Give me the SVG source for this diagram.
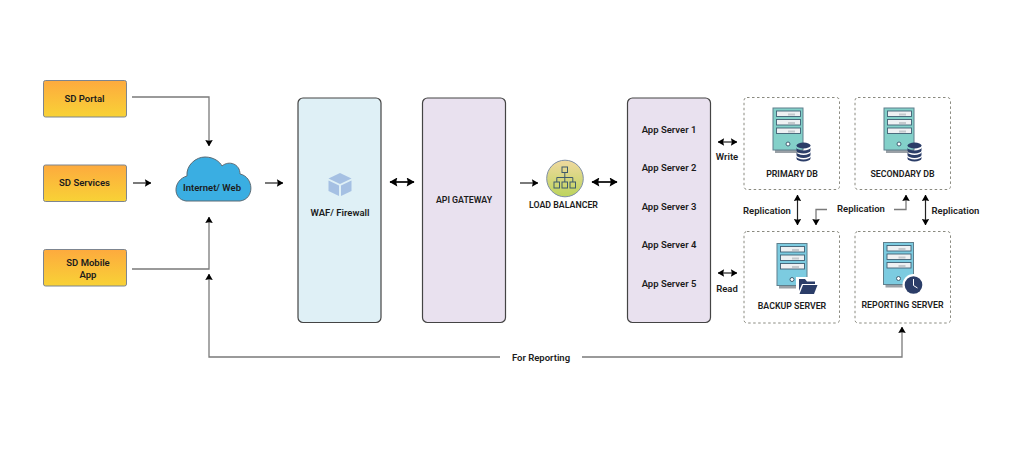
<svg xmlns="http://www.w3.org/2000/svg" width="1024" height="450" viewBox="0 0 1024 450">
<style>
text{font-family:Roboto,"Noto Sans","Liberation Sans",sans-serif;font-weight:600;font-size:9.500px;fill:#1c1c1c;text-anchor:middle}
text.c{font-size:8.800px}
.src{fill:url(#orange);stroke:#7d8590;stroke-width:1}
.panel{stroke:#444;stroke-width:1.2}
.dash{fill:#fff;stroke:#8a8a80;stroke-width:1;stroke-dasharray:2.5 2.5}
.g{fill:none;stroke:#7a7a7a;stroke-width:1.3}
.d{fill:none;stroke:#222;stroke-width:1.2}
.t{fill:none;stroke:#111;stroke-width:1.8}
.drawer{fill:#eef1f3;stroke:#3f5f73;stroke-width:.9}
.tag{fill:#c4c9cd}
.navy{fill:#2b3d68}
</style>
<defs>
<linearGradient id="orange" x1="0" y1="0" x2="0" y2="1"><stop offset="0" stop-color="#fdaa3e"/><stop offset="1" stop-color="#f8d236"/></linearGradient>
<linearGradient id="lb" x1="0" y1="0" x2="0" y2="1"><stop offset="0" stop-color="#f0d9a0"/><stop offset="1" stop-color="#bcd45c"/></linearGradient>
<marker id="a" viewBox="0 0 8 8" refX="7.500" refY="4" markerWidth="7.500" markerHeight="7.500" markerUnits="userSpaceOnUse" orient="auto-start-reverse"><path d="M1 0 L8 4 L1 8 L2 4Z" fill="#000"/></marker>
<marker id="b" viewBox="0 0 8 8" refX="7.500" refY="4" markerWidth="9" markerHeight="9" markerUnits="userSpaceOnUse" orient="auto-start-reverse"><path d="M1 0 L8 4 L1 8 L2 4Z" fill="#000"/></marker>
<g id="srv">
<rect x="2" y="40" width="28" height="5" fill="#9aa0a6"/>
<rect x="0" y="0" width="30" height="42" stroke="#5f7f8c" stroke-width="1"/>
<rect class="drawer" x="3.500" y="3" width="24" height="5.500"/>
<rect class="drawer" x="3.500" y="11.500" width="24" height="5.500"/>
<rect class="drawer" x="3.500" y="20" width="24" height="5.500"/>
<rect class="tag" x="15" y="5.500" width="7" height="2"/>
<rect class="tag" x="15" y="14" width="7" height="2"/>
<rect class="tag" x="15" y="22.500" width="7" height="2"/>
<circle cx="15" cy="36" r="2" fill="#fff" stroke="#3f5f73"/>
</g>
<g id="db">
<ellipse cx="0" cy="-5.500" rx="7" ry="3" class="navy"/>
<path class="navy" d="M-7-3.500a7 3 0 0 0 14 0v3a7 3 0 0 1-14 0Z"/>
<path class="navy" d="M-7 1a7 3 0 0 0 14 0v3a7 3 0 0 1-14 0Z"/>
<path class="navy" d="M-7 5.500a7 3 0 0 0 14 0v2a7 3 0 0 1-14 0Z"/>
</g>
</defs>
<rect width="1024" height="450" fill="#fff"/>

<g id="connectors">
<path class="g" d="M132 97H209V146" marker-end="url(#a)"/>
<path class="d" d="M133 183H151" marker-end="url(#a)"/>
<path class="g" d="M132 269H209V217" marker-end="url(#a)"/>
<path class="d" d="M265 183H283" marker-end="url(#a)"/>
<path class="g" d="M500 357H209V274" marker-end="url(#a)"/>
<path class="g" d="M582 357H902V327" marker-end="url(#a)"/>
<path class="t" d="M390 182H414" marker-start="url(#b)" marker-end="url(#b)"/>
<path class="d" d="M520 183H538" marker-end="url(#a)"/>
<path class="t" d="M592 182H617" marker-start="url(#b)" marker-end="url(#b)"/>
<path class="d" d="M718 142H737" marker-start="url(#a)" marker-end="url(#a)"/>
<path class="d" d="M718 273H737" marker-start="url(#a)" marker-end="url(#a)"/>
<path class="d" d="M797.500 195V225" marker-start="url(#a)" marker-end="url(#a)"/>
<path class="g" d="M827 209.500H816V225" marker-end="url(#a)"/>
<path class="g" d="M894 209.500H906V195" marker-end="url(#a)"/>
<path class="d" d="M925.500 195V225" marker-start="url(#a)" marker-end="url(#a)"/>
</g>

<g id="sd-portal"><rect class="src" x="43.500" y="80.500" width="83" height="36.500" rx="2"/><text x="84.500" y="102">SD Portal</text></g>
<g id="sd-services"><rect class="src" x="43.500" y="165" width="83" height="36.500" rx="2"/><text x="84.500" y="186">SD Services</text></g>
<g id="sd-mobile"><rect class="src" x="43.500" y="249.500" width="83" height="36.500" rx="2"/><text x="88" y="266">SD Mobile</text><text x="88" y="278">App</text></g>

<g id="cloud">
<path d="M186 201C172 199 173 180 187 176C186 165 196 157 205 157C214 157 220 162 222 166C229 160 240 164 240 174C254 177 255 199 240 201Z" fill="#3aaee2" stroke="#5b6b75" stroke-width="1"/>
<text x="212" y="191">Internet/ Web</text>
</g>

<g id="waf">
<rect class="panel" x="298" y="98" width="83" height="224.500" rx="5" fill="#dff0f6"/>
<path d="M340 173L351.500 178.500L340 184L328.500 178.500Z" fill="#a5c0e3"/>
<path d="M328.500 180.500L339 185.500V196L328.500 191Z" fill="#a5c0e3"/>
<path d="M351.500 180.500L341 185.500V196L351.500 191Z" fill="#a5c0e3"/>
<text x="340" y="216">WAF/ Firewall</text>
</g>

<g id="api-gateway">
<rect class="panel" x="422.500" y="98" width="83" height="224.500" rx="5" fill="#e9e1ef"/>
<text class="c" x="464" y="203">API GATEWAY</text>
</g>

<g id="load-balancer">
<circle cx="565" cy="178.500" r="18.300" fill="url(#lb)" stroke="#7f8fa6" stroke-width="1"/>
<g fill="none" stroke="#3f5b6b" stroke-width="1">
<rect x="562" y="167" width="5.500" height="5.500"/>
<rect x="554" y="182" width="5.500" height="6"/>
<rect x="562" y="182" width="5.500" height="6"/>
<rect x="570" y="182" width="5.500" height="6"/>
<path d="M564.800 172.500V182M556.800 182V177.500H572.800V182"/>
</g>
<text class="c" x="563.500" y="208">LOAD BALANCER</text>
</g>

<g id="app-servers">
<rect class="panel" x="627.500" y="98" width="83" height="224.500" rx="5" fill="#e9e1ef"/>
<text x="669" y="132.500">App Server 1</text>
<text x="669" y="171">App Server 2</text>
<text x="669" y="209.500">App Server 3</text>
<text x="669" y="248">App Server 4</text>
<text x="669" y="287">App Server 5</text>
</g>

<g id="primary-db">
<rect class="dash" x="744" y="97.500" width="95.500" height="92" rx="3"/>
<use href="#srv" x="773" y="108" fill="#83d0c9"/>
<use href="#db" x="803.500" y="151"/>
<text class="c" x="792" y="176.500">PRIMARY DB</text>
</g>
<g id="secondary-db">
<rect class="dash" x="855" y="97.500" width="95.500" height="92" rx="3"/>
<use href="#srv" x="884" y="108" fill="#83d0c9"/>
<use href="#db" x="914.500" y="151"/>
<text class="c" x="902.500" y="176.500">SECONDARY DB</text>
</g>
<g id="backup-server">
<rect class="dash" x="744" y="231.500" width="95.500" height="91.500" rx="3"/>
<use href="#srv" x="777" y="243.500" fill="#7ccbe0"/>
<rect x="796" y="277" width="23" height="19" fill="#fff"/>
<path class="navy" d="M799 279H805L807 281.500H815V284H802L799 291Z"/>
<path class="navy" d="M803 285H817.500L814 294H799.500Z"/>
<text class="c" x="792" y="309">BACKUP SERVER</text>
</g>
<g id="reporting-server">
<rect class="dash" x="855" y="231.500" width="95.500" height="91.500" rx="3"/>
<use href="#srv" x="883.500" y="242.500" fill="#7ccbe0"/>
<circle cx="913.500" cy="285" r="11" fill="#fff"/>
<circle cx="913.500" cy="285" r="8.800" class="navy"/>
<path d="M913.500 279V285.500L917.500 288" fill="none" stroke="#fff" stroke-width="1"/>
<text class="c" x="902.500" y="308">REPORTING SERVER</text>
</g>

<g id="labels">
<text x="727" y="160">Write</text>
<text x="727" y="291.500">Read</text>
<text x="767" y="213.500">Replication</text>
<text x="861" y="212">Replication</text>
<text x="955.500" y="213.500">Replication</text>
<text x="541" y="360.500">For Reporting</text>
</g>
</svg>
